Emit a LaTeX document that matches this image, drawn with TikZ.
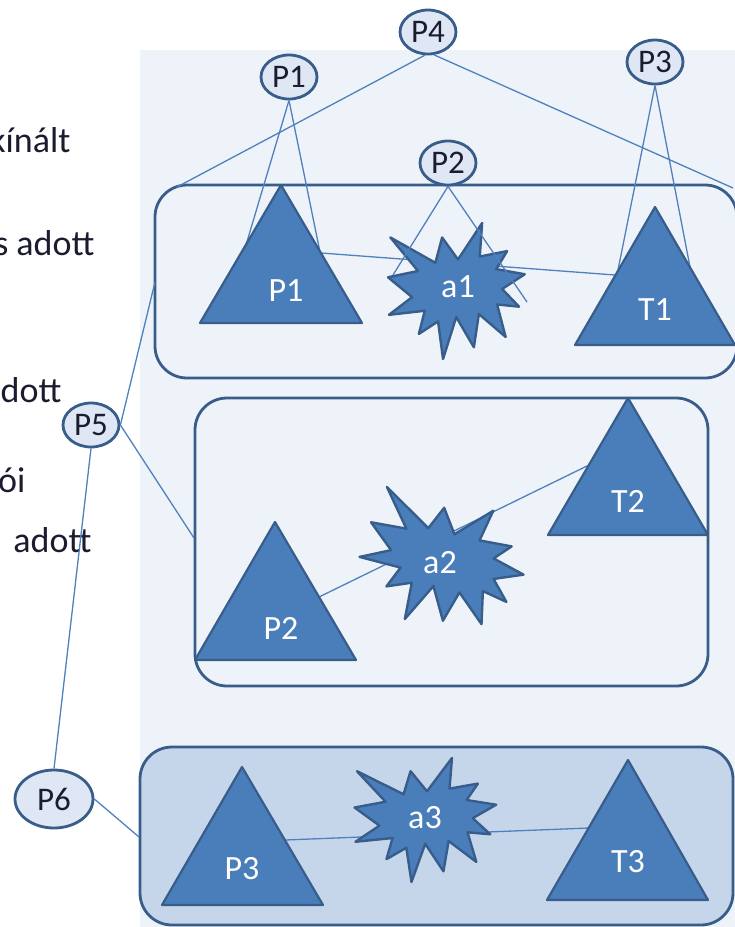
\documentclass[tikz,border=0pt]{standalone}
\usepackage{fontspec}
\setmainfont{Carlito}
\usetikzlibrary{shapes.geometric}
\definecolor{panel}{RGB}{238,243,249}
\definecolor{ovalfill}{RGB}{222,231,243}
\definecolor{edgeblue}{RGB}{56,93,138}
\definecolor{triblue}{RGB}{74,126,187}
\definecolor{linkblue}{RGB}{79,129,189}
\definecolor{boxfill}{RGB}{197,214,235}
\definecolor{ink}{RGB}{28,28,48}
\tikzset{
	kapocs/.style={draw=linkblue, line width=1.3pt},
	oval/.style={ellipse, draw=edgeblue, line width=2.8pt, fill=ovalfill, inner sep=0pt,
		minimum width=56pt, minimum height=44pt, text=ink, font=\fontsize{33}{38}\selectfont},
	keret/.style={draw=edgeblue, line width=2.8pt, rounded corners=32pt},
	haromszog/.style={fill=triblue, draw=edgeblue, line width=2.2pt, line join=round},
	robbanas/.style={fill=triblue, draw=edgeblue, line width=2.4pt, line join=round},
	felirat/.style={text=white, font=\fontsize{34}{40}\selectfont},
	oldal/.style={anchor=base east, text=ink, font=\fontsize{36}{43}\selectfont},
}
% robbanas alakzat: kozeppont x, y, szelesseg, magassag, forgatas
\newcommand{\robban}[5]{%
	\begin{scope}[shift={(#1,#2)}, rotate=#5]
		\draw[robbanas, xscale=#3/216, yscale=#4/216, shift={(-108,-108)}]
		(108,58) -- (145.2,0) -- (141.6,53.3) -- (183.8,44.6) -- (167,73.2) -- (211,81.4)
		-- (176.1,104.8) -- (202.2,132.9) -- (168.4,129.4) -- (181.5,181) -- (140.2,144.6)
		-- (132.5,197.4) -- (105.3,149.4) -- (84.9,216) -- (77.2,156.3) -- (47.6,176.2)
		-- (56.7,139.4) -- (1.4,145.9) -- (37.2,117.8) -- (0,86.2) -- (46.3,76.2)
		-- (3.7,23) -- (73.1,63.2) -- (83.5,23) -- cycle;
	\end{scope}}
\begin{document}
\begin{tikzpicture}[x=1pt, y=-1pt]
	\useasboundingbox (0,0) rectangle (735,927);
	\clip (0,0) rectangle (735,927);
	\fill[panel] (140,50) rectangle (740,930);
	% bal oldali szoveg
	\foreach \szoveg/\xx/\yy in {kínált/74/152, s adott/98/255, dott/65/402, ói/29/492, adott/95/552}
		\node[oldal] at (\xx,\yy) {\szoveg};
	% keretek
	\draw[keret] (155,185) rectangle (737,378);
	\draw[keret] (195,398) rectangle (708,686);
	\draw[keret, fill=boxfill] (140,747) rectangle (733,925);
	% csatlakozasi pontok
	\path
	(177,187) coordinate (k1bf)
	(733,188) coordinate (k1jf)
	(155,282) coordinate (k1bal)
	(194,538) coordinate (k2bal)
	(139,837) coordinate (k3bal)
	(246,245) coordinate (P1bal)
	(320,252) coordinate (P1jobb)
	(618,270) coordinate (T1bal)
	(690,267) coordinate (T1jobb)
	(321,253) coordinate (P1ki)
	(615,275) coordinate (T1be)
	(319,597) coordinate (P2ki)
	(589,465) coordinate (T2be)
	(285,840) coordinate (P3ki)
	(589,828) coordinate (T3be)
	(393,275) coordinate (a1bal)
	(527,302) coordinate (a1jobb)
	;
	% ellipszisek
	\foreach \n/\x/\y in {P4/428/32, P1/289/77, P3/655/62, P2/448/163, P5/91/425}
		\node[oval] (o\n) at (\x,\y) {\n};
	\node[oval, minimum width=78pt, minimum height=58pt] (oP6) at (54,799) {P6};
	% osszekoto vonalak
	\draw[kapocs] (oP4.262) -- (k1bf) (oP4.285) -- (k1jf);
	\draw[kapocs] (oP1.south) -- (P1bal) (oP1.south) -- (P1jobb);
	\draw[kapocs] (oP3.south) -- (T1bal) (oP3.south) -- (T1jobb);
	\draw[kapocs] (oP5.east) -- (k1bal) (oP5.east) -- (k2bal);
	\draw[kapocs] (oP5.south) -- (oP6.north);
	\draw[kapocs] (oP6.east) -- (k3bal);
	\draw[kapocs] (P1ki) -- (T1be) (P2ki) -- (T2be) (P3ki) -- (T3be);
	% haromszogek
	\draw[haromszog] (281,185) -- (362,323) -- (200,323) -- cycle;
	\draw[haromszog] (655,207) -- (735,345) -- (575,345) -- cycle;
	\draw[haromszog] (275,522) -- (356,660) -- (195,660) -- cycle;
	\draw[haromszog] (628,398) -- (708,535) -- (548,535) -- cycle;
	\draw[haromszog] (242,767) -- (323,905) -- (162,905) -- cycle;
	\draw[haromszog] (628,760) -- (708,900) -- (547,900) -- cycle;
	% robbanasok
	\robban{458}{291}{140}{136}{0}
	\robban{444}{563}{165}{132}{-20}
	\robban{427}{820}{145}{124}{0}
	\draw[kapocs] (oP2.south) -- (a1bal) (oP2.south) -- (a1jobb);
	% feliratok
	\node[felirat] (tP1) at (286,291) {P1};
	\node[felirat] (tT1) at (655,310) {T1};
	\node[felirat] (tP2) at (281,628) {P2};
	\node[felirat] (tT2) at (628,501) {T2};
	\node[felirat] (tP3) at (242,869) {P3};
	\node[felirat] (tT3) at (628,862) {T3};
	\node[felirat] (ta1) at (458,287) {a1};
	\node[felirat] (ta2) at (440,563) {a2};
	\node[felirat] (ta3) at (425,818) {a3};
\end{tikzpicture}
\end{document}
